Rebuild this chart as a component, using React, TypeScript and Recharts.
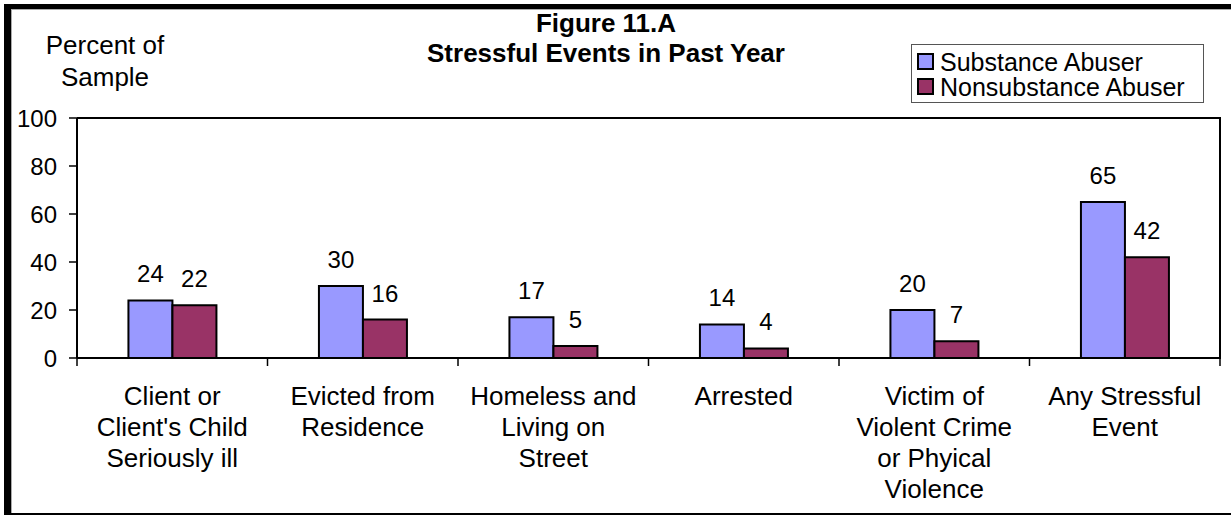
import { Bar, BarChart, CartesianGrid, LabelList, Legend, ReferenceLine, XAxis, YAxis } from "recharts";

const categories = [
  "Client or\nClient's Child\nSeriously ill",
  "Evicted from\nResidence",
  "Homeless and\nLiving on\nStreet",
  "Arrested",
  "Victim of\nViolent Crime\nor Phyical\nViolence",
  "Any Stressful\nEvent",
];
const substanceAbuser = [24, 30, 17, 14, 20, 65];
const nonsubstanceAbuser = [22, 16, 5, 4, 7, 42];
const seriesNames = ["Substance Abuser", "Nonsubstance Abuser"];
const yTicks = [0, 20, 40, 60, 80, 100];

const FONT = '"Liberation Sans", Arial, sans-serif';
const CHART_W = 1231;
const CHART_H = 516;
const MARGIN_TOP = 118;
const X_AXIS_H = 158;
const PLOT_H = CHART_H - MARGIN_TOP - X_AXIS_H;

const data = categories.map((name, i) => ({
  name,
  substance: substanceAbuser[i],
  nonsubstance: nonsubstanceAbuser[i],
}));

function CategoryTick(props: any) {
  const { x, y, payload, index, width } = props;
  const half = payload.offset ? payload.offset : width / categories.length / 2;
  const lines = String(payload.value).split("\n");
  const isLast = index === categories.length - 1;
  return (
    <g>
      <line x1={x - half} y1={y} x2={x - half} y2={y + 8} stroke="#000" strokeWidth={1.5} />
      {isLast && (
        <>
          <line x1={x + half} y1={y} x2={x + half} y2={y + 8} stroke="#000" strokeWidth={1.5} />
          {/* right edge of the plot frame */}
          <line x1={x + half} y1={y + 1} x2={x + half} y2={y - PLOT_H - 1} stroke="#000" strokeWidth={2} />
        </>
      )}
      <text x={x} y={y + 47} textAnchor="middle" fontSize={26} fontFamily={FONT} fill="#000">
        {lines.map((line, i) => (
          <tspan key={i} x={x} dy={i === 0 ? 0 : 31}>
            {line}
          </tspan>
        ))}
      </text>
    </g>
  );
}

function LegendBox(props: any) {
  const items = [...(props.payload || [])].sort(
    (a: any, b: any) => seriesNames.indexOf(a.value) - seriesNames.indexOf(b.value),
  );
  return (
    <div
      style={{
        width: 293,
        height: 59,
        boxSizing: "border-box",
        border: "1.5px solid #555",
        background: "#fff",
        padding: "4px 0 0 5px",
        fontFamily: FONT,
        fontSize: 25,
        lineHeight: "24px",
        color: "#000",
      }}
    >
      {items.map((item: any) => (
        <div key={item.value} style={{ display: "flex", alignItems: "center", whiteSpace: "nowrap", height: 25 }}>
          <span
            style={{
              display: "inline-block",
              width: 17,
              height: 17,
              boxSizing: "border-box",
              border: "2px solid #000",
              background: item.color,
              marginRight: 6,
            }}
          />
          {item.value}
        </div>
      ))}
    </div>
  );
}

export default function App() {
  return (
    <div style={{ position: "relative", width: CHART_W, height: CHART_H, overflow: "hidden", background: "#fff" }}>
      <style>{"body{margin:0}"}</style>
      <BarChart
        width={CHART_W}
        height={CHART_H}
        data={data}
        margin={{ top: MARGIN_TOP, right: 11, left: 0, bottom: 0 }}
        barCategoryGap="27%"
        barGap={0}
      >
        <CartesianGrid
          stroke="#000"
          strokeWidth={2}
          vertical={false}
          horizontalCoordinatesGenerator={({ offset }: any) => [offset.top]}
        />
        <XAxis
          dataKey="name"
          height={X_AXIS_H}
          interval={0}
          tickSize={0}
          tickMargin={0}
          tick={<CategoryTick />}
          axisLine={{ stroke: "#000", strokeWidth: 2 }}
          tickLine={false}
        />
        <YAxis
          width={77}
          domain={[0, 100]}
          ticks={yTicks}
          tickSize={8}
          tickMargin={12}
          tick={{ fontSize: 24, fontFamily: FONT, fill: "#000" }}
          axisLine={{ stroke: "#000", strokeWidth: 2 }}
          tickLine={{ stroke: "#000", strokeWidth: 1.5 }}
        />
        <ReferenceLine y={100} stroke="#000" strokeWidth={2} />
        <Legend
          layout="vertical"
          align="center"
          verticalAlign="middle"
          content={<LegendBox />}
          wrapperStyle={{ position: "absolute", left: 911, top: 44, width: 293, height: 59 }}
        />
        <Bar
          dataKey="substance"
          name={seriesNames[0]}
          fill="#9999FF"
          stroke="#000"
          strokeWidth={2}
          isAnimationActive={false}
        >
          <LabelList dataKey="substance" position="top" offset={18} fontSize={24} fontFamily={FONT} fill="#000" />
        </Bar>
        <Bar
          dataKey="nonsubstance"
          name={seriesNames[1]}
          fill="#993366"
          stroke="#000"
          strokeWidth={2}
          isAnimationActive={false}
        >
          <LabelList dataKey="nonsubstance" position="top" offset={18} fontSize={24} fontFamily={FONT} fill="#000" />
        </Bar>
      </BarChart>

      <div
        style={{
          position: "absolute",
          left: 0,
          top: 8,
          width: 1212,
          textAlign: "center",
          fontFamily: FONT,
          fontWeight: "bold",
          fontSize: 26,
          lineHeight: "30px",
          color: "#000",
        }}
      >
        <div>Figure 11.A</div>
        <div>Stressful Events in Past Year</div>
      </div>

      <div
        style={{
          position: "absolute",
          left: 25,
          top: 29,
          width: 160,
          textAlign: "center",
          fontFamily: FONT,
          fontSize: 26,
          lineHeight: "32px",
          color: "#000",
        }}
      >
        <div>Percent of</div>
        <div>Sample</div>
      </div>

      <div
        style={{
          position: "absolute",
          left: 4,
          top: 4,
          width: 1227,
          height: 511,
          boxSizing: "border-box",
          borderLeft: "7px solid #000",
          borderTop: "5px solid #000",
          borderBottom: "2px solid #000",
          boxShadow: "inset 1px 1px 0 #aaa",
          pointerEvents: "none",
        }}
      />
    </div>
  );
}
